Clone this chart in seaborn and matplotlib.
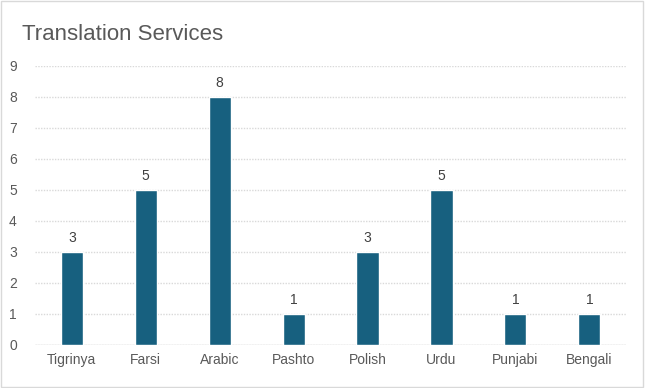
import matplotlib
matplotlib.use("Agg")
import matplotlib.pyplot as plt
import seaborn as sns
import pandas as pd

languages = ["Tigrinya", "Farsi", "Arabic", "Pashto", "Polish", "Urdu", "Punjabi", "Bengali"]
counts = [3, 5, 8, 1, 3, 5, 1, 1]

sns.set_theme(style="white")
plt.rcParams['font.family'] = ['Liberation Sans', 'DejaVu Sans']

df = pd.DataFrame({"Language": languages, "Count": counts})

fig = plt.figure(figsize=(6.45, 3.88), dpi=100)
ax = fig.add_axes([0.054, 0.111, 0.917, 0.719])

sns.barplot(data=df, x="Language", y="Count", color="#17607f", width=0.3,
            saturation=1, ax=ax, zorder=3)

ax.set_ylim(0, 9)
ax.set_yticks(range(0, 10))
ax.yaxis.grid(True, color="#d9d9d9", linestyle=(0, (1, 1)), linewidth=1, zorder=0)
ax.set_axisbelow(True)
for s in ax.spines.values():
    s.set_visible(False)
ax.set_xlabel("")
ax.set_ylabel("")
ax.tick_params(axis="both", length=0, labelsize=10, colors="#595959", pad=6)
ax.tick_params(axis="y", pad=13)
ax.axhline(0, color="#d9d9d9", linewidth=1, zorder=1)

for c in ax.containers:
    ax.bar_label(c, fmt="%d", padding=5, fontsize=10, color="#404040")

fig.text(0.034, 0.912, "Translation Services", fontsize=16, color="#595959",
         ha="left", va="center")

border = plt.Rectangle((0.002, 0.003), 0.995, 0.994, transform=fig.transFigure,
                       fill=False, edgecolor="#d9d9d9", linewidth=1)
fig.patches.append(border)

fig.savefig("out.png", dpi=100)
